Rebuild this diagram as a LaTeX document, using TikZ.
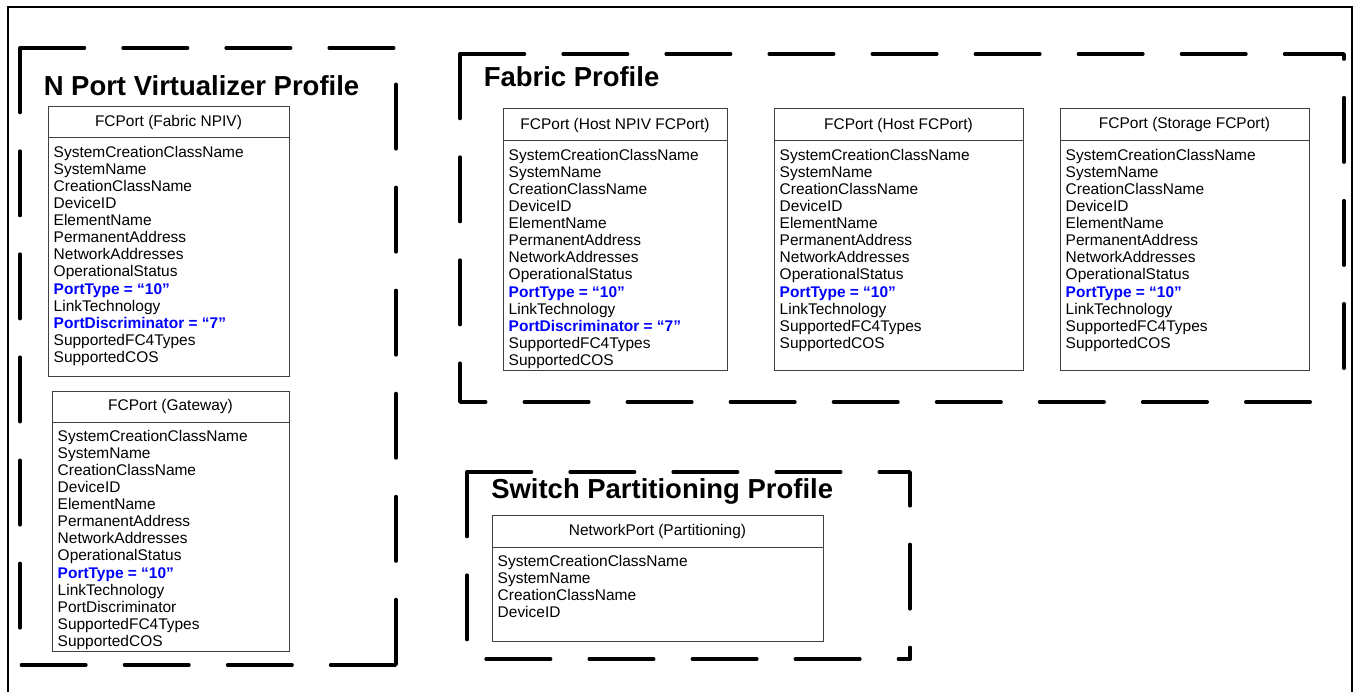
\documentclass[tikz,border=0pt]{standalone}
\usepackage{fontspec}
\setmainfont{Liberation Sans}
\usetikzlibrary{positioning}
\newcommand{\blueattr}[1]{\textcolor{blue}{\bfseries #1}}

\begin{document}
\begin{tikzpicture}[
  x=0.75pt, y=-0.75pt,
  font=\fontsize{11.6pt}{12.8pt}\selectfont,
  frame/.style={line width=1.5pt},
  profile/.style={line width=2.6pt, line cap=round, line join=round, dash pattern=on 48.4pt off 28.9pt},
  title/.style={anchor=base west, inner sep=0pt, font=\fontsize{20.6pt}{24pt}\selectfont\bfseries},
  head/.style={draw=black!75, line width=0.75pt, anchor=north west, inner sep=0pt, outer sep=0pt, minimum height=23.25pt},
  body/.style={draw=black!75, line width=0.75pt, inner sep=0pt, outer sep=0pt},
  attrs/.style={inner sep=0pt, align=left},
]
\useasboundingbox (0,0) rectangle (1354,692);
\draw[frame] (7.5,692) -- (7.5,7) -- (1351.5,7) -- (1351.5,692);

\draw[profile] (20,48) -- (396,48) -- (396,665);
\draw[profile] (20,48) -- (20,665) -- (396,665);
\draw[profile] (460,54) -- (1344,54) -- (1344,402);
\draw[profile] (460,54) -- (460,402) -- (1344,402);
\draw[profile] (467,472) -- (910,472) -- (910,659);
\draw[profile] (467,472) -- (467,659) -- (910,659);

\node[title] (npvTitle) at (43.5,95.8) {N Port Virtualizer Profile};
\node[title] (fabTitle) at (483.5,86.8) {Fabric Profile};
\node[title] (spTitle) at (491,498.8) {Switch Partitioning Profile};

\node[head, minimum width=180.75pt] (npivHead) at (48,107) {FCPort (Fabric NPIV)};
\node[body, minimum width=180.75pt, minimum height=178.5pt, below=0pt of npivHead] (npivBody) {};
\node[attrs, below right=6pt and 4.1pt of npivBody.north west] (npivAttr)
  {SystemCreationClassName\\SystemName\\CreationClassName\\DeviceID\\ElementName\\PermanentAddress\\NetworkAddresses\\OperationalStatus\\\blueattr{PortType = “10”}\\LinkTechnology\\\blueattr{PortDiscriminator = “7”}\\SupportedFC4Types\\SupportedCOS};

\node[head, minimum width=177.75pt] (gwHead) at (52,391) {FCPort (Gateway)};
\node[body, minimum width=177.75pt, minimum height=171.75pt, below=0pt of gwHead] (gwBody) {};
\node[attrs, below right=6pt and 4.1pt of gwBody.north west] (gwAttr)
  {SystemCreationClassName\\SystemName\\CreationClassName\\DeviceID\\ElementName\\PermanentAddress\\NetworkAddresses\\OperationalStatus\\\blueattr{PortType = “10”}\\LinkTechnology\\PortDiscriminator\\SupportedFC4Types\\SupportedCOS};

\node[head, minimum width=168pt, minimum height=24pt] (hnpivHead) at (503,109) {FCPort (Host NPIV FCPort)};
\node[body, minimum width=168pt, minimum height=171.75pt, below=0pt of hnpivHead] (hnpivBody) {};
\node[attrs, below right=6pt and 4.1pt of hnpivBody.north west] (hnpivAttr)
  {SystemCreationClassName\\SystemName\\CreationClassName\\DeviceID\\ElementName\\PermanentAddress\\NetworkAddresses\\OperationalStatus\\\blueattr{PortType = “10”}\\LinkTechnology\\\blueattr{PortDiscriminator = “7”}\\SupportedFC4Types\\SupportedCOS};

\node[head, minimum width=186.75pt, minimum height=24pt] (hostHead) at (774,109) {FCPort (Host FCPort)};
\node[body, minimum width=186.75pt, minimum height=171.75pt, below=0pt of hostHead] (hostBody) {};
\node[attrs, below right=6pt and 4.1pt of hostBody.north west] (hostAttr)
  {SystemCreationClassName\\SystemName\\CreationClassName\\DeviceID\\ElementName\\PermanentAddress\\NetworkAddresses\\OperationalStatus\\\blueattr{PortType = “10”}\\LinkTechnology\\SupportedFC4Types\\SupportedCOS};

\node[head, minimum width=186.75pt, minimum height=24pt] (stoHead) at (1060,109) {FCPort (Storage FCPort)};
\node[body, minimum width=186.75pt, minimum height=171.75pt, below=0pt of stoHead] (stoBody) {};
\node[attrs, below right=6pt and 4.1pt of stoBody.north west] (stoAttr)
  {SystemCreationClassName\\SystemName\\CreationClassName\\DeviceID\\ElementName\\PermanentAddress\\NetworkAddresses\\OperationalStatus\\\blueattr{PortType = “10”}\\LinkTechnology\\SupportedFC4Types\\SupportedCOS};

\node[head, minimum width=248.25pt, minimum height=24pt] (partHead) at (492,515) {NetworkPort (Partitioning)};
\node[body, minimum width=248.25pt, minimum height=70.5pt, below=0pt of partHead] (partBody) {};
\node[attrs, below right=6pt and 4.1pt of partBody.north west] (partAttr)
  {SystemCreationClassName\\SystemName\\CreationClassName\\DeviceID};
\end{tikzpicture}
\end{document}
